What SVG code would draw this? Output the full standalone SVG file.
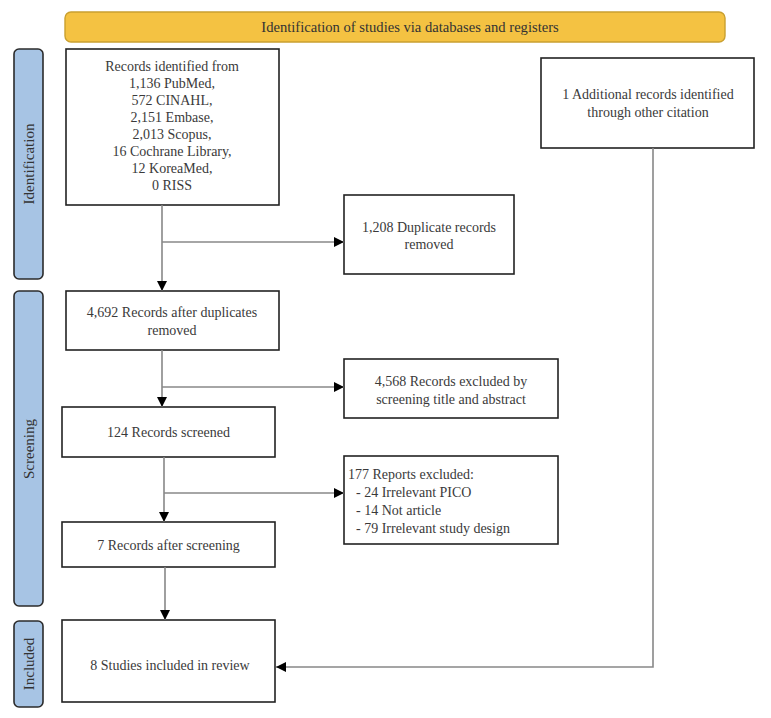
<svg xmlns="http://www.w3.org/2000/svg" width="771" height="718" viewBox="0 0 771 718">
<defs>
<marker id="ah" viewBox="0 0 10 10" refX="10" refY="5" markerWidth="10" markerHeight="10" markerUnits="userSpaceOnUse" orient="auto">
<path d="M0,0 L10,5 L0,10 z" fill="#000"/>
</marker>
<style>
.box{fill:#fff;stroke:#222;stroke-width:1.6}
.side{fill:#A7C4E4;stroke:#2b2b2b;stroke-width:1.6}
.hdr{fill:#F4C242;stroke:#C9A030;stroke-width:1.4}
.t{font-family:"Liberation Serif","Times New Roman",serif;font-size:14px;fill:#3a3a3a;text-anchor:middle}
.tl{font-family:"Liberation Serif","Times New Roman",serif;font-size:14px;fill:#3a3a3a}
.st{font-family:"Liberation Serif","Times New Roman",serif;font-size:15px;fill:#333;text-anchor:middle}
.c{fill:none;stroke:#888;stroke-width:1.6}
.ca{fill:none;stroke:#888;stroke-width:1.6;marker-end:url(#ah)}
</style>
</defs>
<g id="header">
<rect class="hdr" x="65" y="12" width="660" height="30" rx="6"/>
<text class="t" x="410" y="32" style="fill:#333;font-size:14.6px">Identification of studies via databases and registers</text>
</g>
<g id="side-identification">
<rect class="side" x="14" y="49" width="29" height="230" rx="5"/>
<text class="st" transform="translate(33.5,164) rotate(-90)">Identification</text>
</g>
<g id="side-screening">
<rect class="side" x="14" y="291" width="29" height="315" rx="5"/>
<text class="st" transform="translate(33.5,449) rotate(-90)">Screening</text>
</g>
<g id="side-included">
<rect class="side" x="14" y="621" width="29" height="86" rx="5"/>
<text class="st" transform="translate(33.5,664) rotate(-90)">Included</text>
</g>
<g id="n-records">
<rect class="box" x="66" y="49" width="213" height="156"/>
<text class="t" x="172" y="71">Records identified from</text>
<text class="t" x="172" y="88">1,136 PubMed,</text>
<text class="t" x="172" y="105">572 CINAHL,</text>
<text class="t" x="172" y="122">2,151 Embase,</text>
<text class="t" x="172" y="139">2,013 Scopus,</text>
<text class="t" x="172" y="156">16 Cochrane Library,</text>
<text class="t" x="172" y="173">12 KoreaMed,</text>
<text class="t" x="172" y="190">0 RISS</text>
</g>
<g id="n-additional">
<rect class="box" x="541" y="58" width="213" height="90"/>
<text class="t" x="648" y="99">1 Additional records identified</text>
<text class="t" x="648" y="117">through other citation</text>
</g>
<g id="n-duplicates">
<rect class="box" x="344" y="195" width="170" height="79"/>
<text class="t" x="429" y="232">1,208 Duplicate records</text>
<text class="t" x="429" y="249">removed</text>
</g>
<g id="n-after-dup">
<rect class="box" x="66" y="291" width="213" height="59"/>
<text class="t" x="172" y="317">4,692 Records after duplicates</text>
<text class="t" x="172" y="335">removed</text>
</g>
<g id="n-excluded-title">
<rect class="box" x="344" y="359" width="214" height="59"/>
<text class="t" x="451" y="386">4,568 Records excluded by</text>
<text class="t" x="451" y="404">screening title and abstract</text>
</g>
<g id="n-screened">
<rect class="box" x="62" y="407" width="213" height="50"/>
<text class="t" x="168.5" y="437">124 Records screened</text>
</g>
<g id="n-reports-excluded">
<rect class="box" x="344" y="456" width="214" height="88"/>
<text class="tl" x="348" y="479">177 Reports excluded:</text>
<text class="tl" x="356" y="497">- 24 Irrelevant PICO</text>
<text class="tl" x="356" y="515">- 14 Not article</text>
<text class="tl" x="356" y="533">- 79 Irrelevant study design</text>
</g>
<g id="n-after-screening">
<rect class="box" x="62" y="522" width="213" height="45"/>
<text class="t" x="168.5" y="550">7 Records after screening</text>
</g>
<g id="n-included">
<rect class="box" x="62" y="620" width="213" height="82"/>
<text class="t" x="170" y="670">8 Studies included in review</text>
</g>
<g id="connectors">
<line class="ca" x1="162" y1="205" x2="162" y2="291"/>
<line class="ca" x1="162" y1="242" x2="344" y2="242"/>
<line class="ca" x1="162" y1="350" x2="162" y2="407"/>
<line class="ca" x1="162" y1="387" x2="344" y2="387"/>
<line class="ca" x1="164" y1="457" x2="164" y2="522"/>
<line class="ca" x1="164" y1="493" x2="344" y2="493"/>
<line class="ca" x1="165" y1="567" x2="165" y2="620"/>
<polyline class="ca" points="653,148 653,667 276,667"/>
</g>
</svg>
